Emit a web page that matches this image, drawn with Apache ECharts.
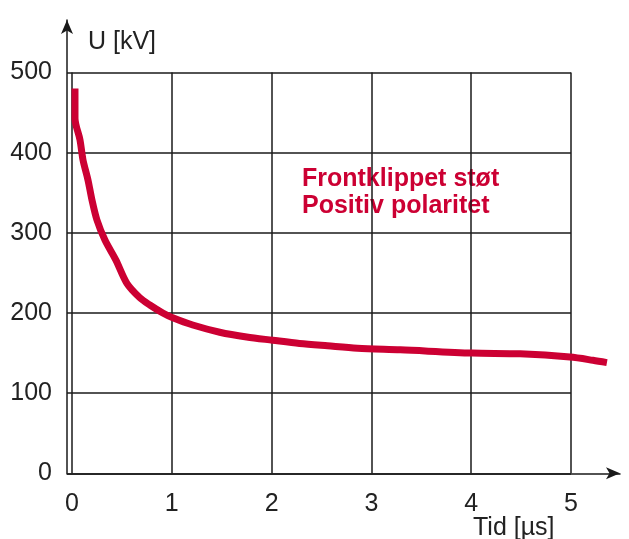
<!DOCTYPE html>
<html>
<head>
<meta charset="utf-8">
<script src="https://cdn.jsdelivr.net/npm/echarts@6/dist/echarts.min.js"></script>
<style>html,body{margin:0;padding:0;background:#fff}#c{width:629px;height:539px}</style>
</head>
<body>
<div id="c"></div>
<script>
// Data
var timeUs = [0.03, 0.03, 0.08, 0.11, 0.16, 0.20, 0.25, 0.33, 0.44, 0.55, 0.68, 0.78, 0.91, 1.01, 1.21, 1.48, 1.75, 2.01, 2.28, 2.56, 2.86, 3.29, 4.01, 4.49, 4.99, 5.22, 5.36];
var voltageKV = [480, 443, 416, 391, 366, 341, 316, 291, 266, 237, 219, 210, 200, 194, 185, 176, 170, 166, 162, 159, 156, 154, 150, 149, 145, 141, 138];
var xTicks = [0, 1, 2, 3, 4, 5];
var yTicks = [0, 100, 200, 300, 400, 500];
var yName = 'U [kV]';
var xName = 'Tid [µs]';
var noteLines = ['Frontklippet støt', 'Positiv polaritet'];

var FONT = '"Liberation Sans", Arial, sans-serif';
var RED = '#cc0033';
var LINE = '#1a1a1a';

var pts = timeUs.map(function (t, i) { return [t, voltageKV[i]]; });

// data grid: x=0 at 72px, x=5 at 571px, extended to the right so the curve tail is not clipped
var pxPerUnit = (571 - 72) / 5;
var dataRight = 609;
var xMaxData = (dataRight - 72) / pxPerUnit;

var chart = echarts.init(document.getElementById('c'), null, { renderer: 'canvas' });
chart.setOption({
  animation: false,
  backgroundColor: '#fff',
  grid: [
    { left: 67, right: 58, top: 72.5, bottom: 65.7 },
    { left: 72, right: 629 - dataRight, top: 72.5, bottom: 65.7 },
    { left: 67, right: 9, top: 20, bottom: 65.7 }
  ],
  xAxis: [
    { gridIndex: 0, type: 'value', min: 0, max: 5, interval: 1, axisLine: { show: false }, axisTick: { show: false }, axisLabel: { show: false }, splitLine: { show: false } },
    { gridIndex: 1, type: 'value', min: 0, max: xMaxData, interval: 1,
      axisLine: { show: false }, axisTick: { show: false },
      axisLabel: { show: true, margin: 18, color: '#222', fontSize: 25, fontFamily: FONT, showMaxLabel: false,
        formatter: function (v) { return xTicks.indexOf(v) >= 0 ? String(v) : ''; } },
      splitLine: { show: true, showMaxLine: false, lineStyle: { color: LINE, width: 1.5 } } },
    { gridIndex: 2, type: 'value', min: 0, max: 1, axisLine: { show: true, symbol: ['none', 'arrow'], symbolSize: [9, 14], lineStyle: { color: LINE, width: 1.5 } }, axisTick: { show: false }, axisLabel: { show: false }, splitLine: { show: false } }
  ],
  yAxis: [
    { gridIndex: 0, type: 'value', min: yTicks[0], max: yTicks[yTicks.length - 1], interval: 100,
      axisLine: { show: false }, axisTick: { show: false },
      axisLabel: { show: true, margin: 15, color: '#222', fontSize: 25, fontFamily: FONT },
      splitLine: { show: true, lineStyle: { color: LINE, width: 1.5 } } },
    { gridIndex: 1, type: 'value', min: 0, max: 500, axisLine: { show: false }, axisTick: { show: false }, axisLabel: { show: false }, splitLine: { show: false } },
    { gridIndex: 2, type: 'value', min: 0, max: 1, axisLine: { show: true, symbol: ['none', 'arrow'], symbolSize: [9, 14], lineStyle: { color: LINE, width: 1.5 } }, axisTick: { show: false }, axisLabel: { show: false }, splitLine: { show: false } }
  ],
  graphic: [
    { type: 'text', left: 88, top: 30, style: { text: yName, fontSize: 25, fontFamily: FONT, fill: '#222' } },
    { type: 'text', left: 473, top: 516, style: { text: xName, fontSize: 25, fontFamily: FONT, fill: '#222' } },
    { type: 'text', left: 302, top: 166, style: { text: noteLines.join('\n'), fontSize: 25, fontWeight: 'bold', lineHeight: 27, fontFamily: FONT, fill: RED } }
  ],
  series: [{
    type: 'line',
    xAxisIndex: 1,
    yAxisIndex: 1,
    data: pts,
    smooth: 0.3,
    showSymbol: false,
    lineStyle: { color: RED, width: 7 },
    z: 5
  }]
});
</script>
</body>
</html>
